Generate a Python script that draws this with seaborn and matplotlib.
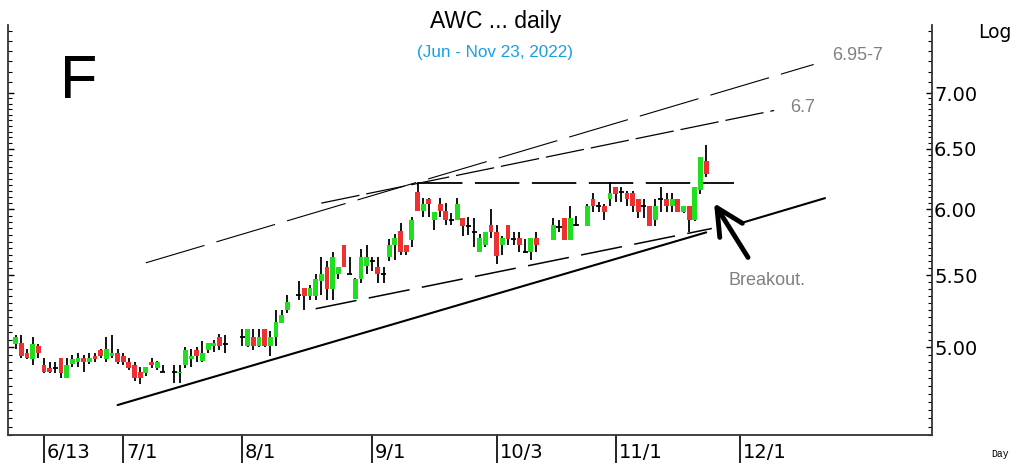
import numpy as np
import pandas as pd
import matplotlib
matplotlib.use('Agg')
import matplotlib.pyplot as plt
import seaborn as sns
from matplotlib.ticker import FixedLocator, NullFormatter, FixedFormatter

nan = np.nan

# ----------- data (daily bars, one slot per weekday) ---------------
start = '2022-06-06'
dates = pd.bdate_range(start, '2022-11-23')

opens = [5.02, 5.03, 4.96, 4.92, 5.01, 4.88, 4.86, 4.86, 4.93, 4.80,
         4.89, 4.90, 4.93, 4.90, 4.94, 4.98, 4.92, 4.94, 4.96, 4.94,
         4.90, 4.88, 4.84, 4.83, 4.90, 4.86, 4.84, nan, 4.84, 4.83,
         4.88, 4.92, 4.98, 4.91, 4.98, 5.01, 5.07, 5.02, nan, nan,
         5.07, 5.01, 5.07, 5.01, 5.12, 5.01, 5.07, 5.16, 5.25, nan,
         5.36, 5.41, 5.35, 5.35, 5.46, 5.56, 5.40, 5.51, 5.72, 5.51,
         5.33, 5.47, 5.57, 5.60, 5.56, 5.51, 5.63, 5.72, 5.83, 5.72,
         5.76, 6.14, 5.99, 6.08, 5.92, 6.04, 5.99, 5.92, 5.92, 5.93,
         5.87, 5.82, 5.67, 5.72, 5.88, 5.82, 5.72, 5.88, 5.77, 5.78,
         5.67, 5.67, 5.78, nan, nan, 5.76, 5.86, 5.93, 5.76, 5.88,
         nan, 5.87, 6.08, 6.03, 6.03, 6.08, 6.18, 6.14, 6.13, 6.13,
         6.08, 6.03, 6.03, 5.92, 6.08, 6.08, 6.03, 6.08, 5.98, 6.03,
         5.92, 6.16, 6.40]
highs = [5.08, 5.08, 4.99, 5.07, 5.02, 4.93, 4.90, 4.90, 4.93, 4.93,
         4.95, 4.96, 4.95, 4.96, 4.96, 4.99, 5.07, 5.08, 4.99, 4.96,
         4.93, 4.90, 4.87, 4.87, 4.93, 4.91, 4.88, nan, 4.88, 4.88,
         5.00, 4.99, 5.00, 5.04, 5.03, 5.05, 5.09, 5.08, nan, nan,
         5.12, 5.12, 5.12, 5.12, 5.12, 5.11, 5.25, 5.25, 5.36, nan,
         5.46, 5.41, 5.43, 5.51, 5.63, 5.60, 5.67, 5.56, 5.72, 5.63,
         5.48, 5.69, 5.72, 5.63, 5.63, 5.56, 5.77, 5.81, 5.89, 5.72,
         5.94, 6.22, 6.09, 6.09, 5.98, 6.09, 6.05, 5.97, 6.09, 5.93,
         5.94, 5.93, 5.81, 5.82, 6.00, 5.88, 5.79, 5.88, 5.82, 5.82,
         5.77, 5.78, 5.82, nan, nan, 5.93, 5.92, 5.93, 6.03, 5.95,
         nan, 6.04, 6.13, 6.06, 6.04, 6.22, 6.18, 6.18, 6.15, 6.15,
         6.08, 6.08, 6.03, 6.08, 6.18, 6.13, 6.13, 6.08, 6.03, 6.03,
         6.18, 6.43, 6.53]
lows = [4.99, 4.93, 4.92, 4.88, 4.93, 4.83, 4.83, 4.83, 4.80, 4.80,
        4.87, 4.87, 4.84, 4.89, 4.90, 4.93, 4.90, 4.93, 4.89, 4.88,
        4.85, 4.78, 4.76, 4.81, 4.86, 4.85, 4.84, nan, 4.77, 4.77,
        4.86, 4.87, 4.90, 4.90, 4.96, 4.97, 4.98, 4.96, nan, nan,
        5.01, 5.00, 4.98, 5.00, 5.00, 4.94, 5.01, 5.16, 5.23, nan,
        5.32, 5.25, 5.32, 5.32, 5.36, 5.32, 5.32, 5.47, 5.56, 5.51,
        5.33, 5.44, 5.51, 5.53, 5.44, 5.44, 5.60, 5.61, 5.65, 5.65,
        5.71, 5.99, 5.94, 5.94, 5.84, 5.94, 5.88, 5.88, 5.92, 5.79,
        5.80, 5.71, 5.67, 5.71, 5.78, 5.58, 5.65, 5.72, 5.72, 5.67,
        5.66, 5.61, 5.67, nan, nan, 5.76, 5.82, 5.76, 5.76, 5.87,
        nan, 5.87, 5.98, 5.98, 5.92, 6.03, 6.06, 6.06, 6.03, 5.98,
        5.93, 5.93, 5.87, 5.87, 5.98, 5.98, 5.98, 5.98, 5.97, 5.82,
        5.91, 6.12, 6.26]
closes = [5.07, 4.94, 4.93, 5.02, 4.96, 4.84, 4.84, 4.86, 4.83, 4.88,
          4.92, 4.93, 4.90, 4.93, 4.92, 4.94, 4.99, 4.96, 4.90, 4.90,
          4.86, 4.80, 4.80, 4.87, 4.88, 4.90, 4.84, nan, 4.84, 4.84,
          4.98, 4.94, 4.94, 4.96, 5.03, 5.03, 5.01, 5.02, nan, nan,
          5.07, 5.12, 5.01, 5.07, 5.01, 5.07, 5.17, 5.22, 5.31, nan,
          5.36, 5.35, 5.41, 5.47, 5.51, 5.40, 5.63, 5.56, 5.56, 5.51,
          5.47, 5.63, 5.63, 5.60, 5.51, 5.51, 5.72, 5.78, 5.67, 5.67,
          5.92, 5.99, 6.04, 6.04, 5.98, 5.99, 5.92, 5.92, 6.04, 5.87,
          5.87, 5.82, 5.78, 5.82, 5.82, 5.64, 5.78, 5.77, 5.77, 5.72,
          5.67, 5.78, 5.72, nan, nan, 5.88, 5.86, 5.76, 5.93, 5.88,
          nan, 6.03, 6.03, 6.03, 5.98, 6.13, 6.12, 6.14, 6.08, 6.03,
          5.98, 6.03, 5.87, 6.03, 6.08, 6.03, 6.08, 5.98, 6.03, 5.92,
          6.18, 6.43, 6.29]

# trend lines drawn on the chart (dates, prices)
support_dates = ['2022-06-30', '2022-11-23']
support_prices = [4.63, 5.82]
support_ext_dates = ['2022-12-01', '2022-12-22']
support_ext_prices = [5.89, 6.09]
lower_dates = ['2022-08-18', '2022-11-24']
lower_prices = [5.26, 5.85]
resist_dates = ['2022-09-13', '2022-11-30']
resist_prices = [6.21, 6.21]
upper_a_dates = ['2022-07-07', '2022-12-20']
upper_a_prices = [5.59, 7.27]
upper_b_dates = ['2022-08-19', '2022-12-09']
upper_b_prices = [6.05, 6.84]

month_dates = ['2022-06-13', '2022-07-01', '2022-08-01', '2022-09-01',
               '2022-10-03', '2022-11-01', '2022-12-01']
month_labels = ['6/13', '7/1', '8/1', '9/1', '10/3', '11/1', '12/1']

price_ticks = [5.0, 5.5, 6.0, 6.5, 7.0]


def wd(d):
    # weekday slot counted from the first bar
    return np.busday_count(start, d)


sns.set_theme(style='ticks')
plt.rcParams['font.family'] = ['DejaVu Sans']
plt.rcParams['lines.scale_dashes'] = False
plt.rcParams['text.color'] = 'black'
plt.rcParams['xtick.color'] = 'black'
plt.rcParams['ytick.color'] = 'black'

o = np.array(opens)
h = np.array(highs)
l = np.array(lows)
c = np.array(closes)
x = np.arange(len(dates))
ok = ~np.isnan(o)

fig = plt.figure(figsize=(10.13, 4.63), dpi=100)
ax = fig.add_axes([0.0079, 0.0605, 0.9121, 0.8855])
ax.set_yscale('log')

GREEN = '#1fe01f'
RED = '#ee3030'

# wicks
ax.vlines(x[ok], l[ok], h[ok], color='black', lw=1.3, zorder=2)
doji = ok & (np.abs(c - o) < 0.006)
up = ok & ~doji & (c > o)
dn = ok & ~doji & (c < o)
ax.bar(x[up], (c - o)[up], bottom=o[up], width=0.85, color=GREEN, linewidth=0, zorder=3)
ax.bar(x[dn], (c - o)[dn], bottom=o[dn], width=0.85, color=RED, linewidth=0, zorder=3)
ax.hlines(o[doji], x[doji] - 0.45, x[doji] + 0.45, color='black', lw=1.3, zorder=3)

# trend lines
ax.plot(wd(support_dates), support_prices, color='black', lw=1.5)
ax.plot(wd(support_ext_dates), support_ext_prices, color='black', lw=1.5)
ax.plot(wd(lower_dates), lower_prices, color='black', lw=1.1, dashes=(30, 9))
ax.plot(wd(resist_dates), resist_prices, color='black', lw=1.3, dashes=(32, 9))
ax.plot(wd(upper_a_dates), upper_a_prices, color='black', lw=0.8, dashes=(44, 9))
ax.plot(wd(upper_b_dates), upper_b_prices, color='black', lw=0.9, dashes=(28, 5))

# breakout arrow and notes
ax.annotate('', xy=(123.4, 6.05), xytext=(129.4, 5.63),
            arrowprops=dict(arrowstyle='->,head_length=1.6,head_width=0.8',
                            lw=3.5, color='black', shrinkA=0, shrinkB=0))
grey = dict(color='#808080', fontsize=13, family='Liberation Sans', va='center', ha='left')
ax.text(144.3, 7.36, '6.95-7', **grey)
ax.text(136.8, 6.87, '6.7', **grey)
ax.text(125.9, 5.46, 'Breakout.', **grey)

# axes
ax.set_xlim(-1.36, 161.9)
ax.set_ylim(4.45, 7.66)
ax.spines['top'].set_visible(False)
for s in ['left', 'right', 'bottom']:
    ax.spines[s].set_color('#333333')
    ax.spines[s].set_linewidth(1.3)

minor = [v for v in np.round(np.arange(4.45, 7.0, 0.05), 2) if v not in price_ticks]
minor += list(np.round(np.arange(7.1, 7.7, 0.1), 2))
ax.yaxis.set_major_locator(FixedLocator(price_ticks))
ax.yaxis.set_major_formatter(FixedFormatter(['%.2f' % v for v in price_ticks]))
ax.yaxis.set_minor_locator(FixedLocator(minor))
ax.yaxis.set_minor_formatter(NullFormatter())
ax.yaxis.set_ticks_position('both')
ax.tick_params(axis='y', which='major', direction='in', length=4, width=1,
               labelleft=False, labelright=True, labelsize=14, pad=1.5)
ax.tick_params(axis='y', which='minor', direction='in', length=3, width=0.8)

ax.set_xticks(wd(month_dates))
ax.tick_params(axis='x', direction='out', length=20, width=1.2, labelbottom=False)
for p, lab in zip(wd(month_dates), month_labels):
    ax.text(p + 0.5, -0.042, lab, transform=ax.get_xaxis_transform(),
            ha='left', va='center', fontsize=14)

# titles and corner text
fig.text(0.489, 0.939, 'AWC ... daily', ha='center', va='baseline',
         fontsize=16.5, family='Liberation Sans')
fig.text(0.4887, 0.8776, '(Jun - Nov 23, 2022)', ha='center', va='baseline',
         fontsize=12.3, family='Liberation Sans', color='#1a9fe3')
fig.text(0.0592, 0.7883, 'F', ha='left', va='baseline', fontsize=44,
         family='Liberation Sans')
fig.text(0.9655, 0.918, 'Log', ha='left', va='baseline', fontsize=13.5)
fig.text(0.979, 0.013, 'Day', ha='left', va='baseline', fontsize=7,
         family='Liberation Mono')

fig.savefig('out.png', dpi=100)
